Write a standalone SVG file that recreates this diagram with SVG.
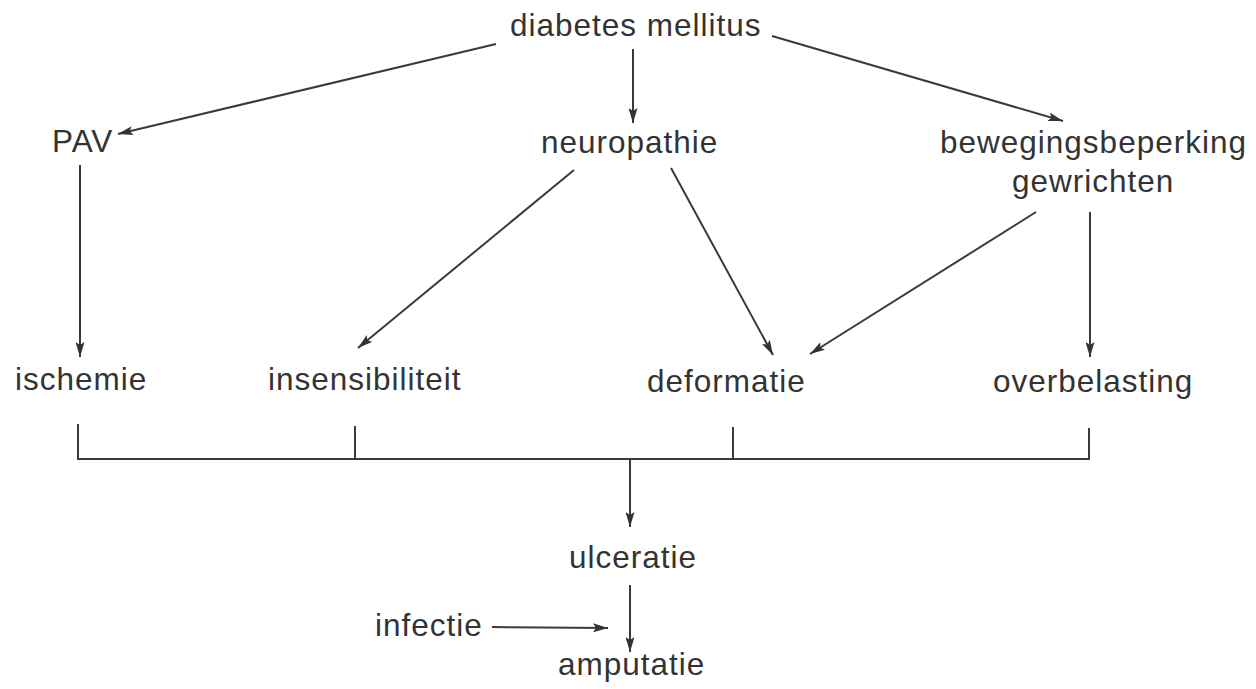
<svg xmlns="http://www.w3.org/2000/svg" width="1256" height="689" viewBox="0 0 1256 689">
<style>
text{font-family:"Liberation Sans",Arial,sans-serif;font-size:31.5px;fill:#333;letter-spacing:1px}
.c line,.c path{stroke:#3a3a3a;stroke-width:2;fill:none}
</style>
<defs>
<marker id="ah" viewBox="0 0 15 9" refX="15" refY="4.5" markerWidth="15" markerHeight="9" markerUnits="userSpaceOnUse" orient="auto">
<path d="M0,0 L15,4.5 L0,9 L3,4.5 Z" fill="#333"/>
</marker>
</defs>
<rect width="1256" height="689" fill="#fff"/>
<g id="n-diabetes"><text x="510" y="36">diabetes mellitus</text></g>
<g id="n-pav"><text x="52" y="152">PAV</text></g>
<g id="n-neuropathie"><text x="541" y="153">neuropathie</text></g>
<g id="n-beweging"><text x="940" y="153">bewegingsbeperking</text><text x="1012" y="192">gewrichten</text></g>
<g id="n-ischemie"><text x="15" y="390">ischemie</text></g>
<g id="n-insensibiliteit"><text x="268" y="390">insensibiliteit</text></g>
<g id="n-deformatie"><text x="647" y="392">deformatie</text></g>
<g id="n-overbelasting"><text x="993" y="392">overbelasting</text></g>
<g id="n-ulceratie"><text x="569" y="568">ulceratie</text></g>
<g id="n-infectie"><text x="375" y="636">infectie</text></g>
<g id="n-amputatie"><text x="558" y="675">amputatie</text></g>
<g id="connectors" class="c">
<line x1="633" y1="49" x2="633" y2="123" marker-end="url(#ah)"/>
<line x1="496" y1="44" x2="118" y2="134" marker-end="url(#ah)"/>
<line x1="772" y1="36" x2="1063" y2="121" marker-end="url(#ah)"/>
<line x1="80" y1="165" x2="80" y2="357" marker-end="url(#ah)"/>
<line x1="574" y1="170" x2="358" y2="348" marker-end="url(#ah)"/>
<line x1="671" y1="168" x2="773" y2="355" marker-end="url(#ah)"/>
<line x1="1036" y1="212" x2="810" y2="354" marker-end="url(#ah)"/>
<line x1="1090" y1="212" x2="1090" y2="357" marker-end="url(#ah)"/>
<path d="M78,424 V459 H1089 V428"/>
<line x1="355" y1="426" x2="355" y2="459"/>
<line x1="733" y1="427" x2="733" y2="459"/>
<line x1="630" y1="459" x2="630" y2="527" marker-end="url(#ah)"/>
<line x1="630" y1="585" x2="630" y2="652" marker-end="url(#ah)"/>
<line x1="492" y1="627" x2="608" y2="628" marker-end="url(#ah)"/>
</g>
</svg>
